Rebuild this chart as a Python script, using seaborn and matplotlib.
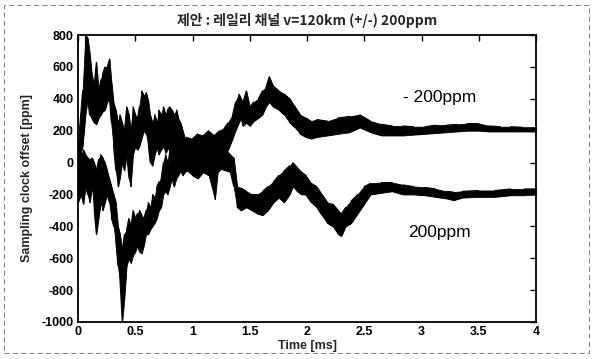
import numpy as np
import pandas as pd
import matplotlib
matplotlib.use("Agg")
import matplotlib.pyplot as plt
from matplotlib.patches import Rectangle
import seaborn as sns

# ---------------- data ----------------
title = "제안 : 레일리 채널 v=120km (+/-) 200ppm"
x_label = "Time [ms]"
y_label = "Sampling clock offset [ppm]"
x_ticks = [0, 0.5, 1, 1.5, 2, 2.5, 3, 3.5, 4]
x_tick_labels = ["0", "0.5", "1", "1.5", "2", "2.5", "3", "3.5", "4"]
y_ticks = [-1000, -800, -600, -400, -200, 0, 200, 400, 600, 800]
series_names = ["- 200ppm", "200ppm"]

# series "- 200ppm" (upper trace): time, lower and upper envelope of the noise band
t_a = [0.00, 0.04, 0.065, 0.085, 0.10, 0.12, 0.14, 0.16, 0.18, 0.20, 0.215, 0.235,
       0.255, 0.275, 0.29, 0.31, 0.33, 0.35, 0.365, 0.385, 0.405, 0.425, 0.445, 0.46,
       0.48, 0.50, 0.52, 0.535, 0.555, 0.575, 0.595, 0.615, 0.63, 0.65, 0.67, 0.69,
       0.705, 0.725, 0.745, 0.765, 0.78, 0.80, 0.82, 0.84, 0.86, 0.875, 0.895, 0.915,
       0.935, 0.95, 1.00, 1.045, 1.095, 1.14, 1.19, 1.235, 1.28, 1.31, 1.35, 1.375,
       1.405, 1.425, 1.44, 1.47, 1.50, 1.535, 1.575, 1.61, 1.64, 1.67, 1.705, 1.755,
       1.80, 1.85, 1.895, 1.94, 1.99, 2.035, 2.085, 2.18, 2.27, 2.37, 2.46, 2.555,
       2.65, 2.745, 2.84, 2.93, 3.03, 3.12, 3.215, 3.31, 3.40, 3.50, 3.59, 3.69,
       3.78, 3.88, 4.00]
lo_a = [0, 100, 300, 400, 300, 280, 250, 240, 280, 300, 320, 330,
        380, 400, 250, 100, -50, -150, -100, 0, -50, 50, -100, -150,
        50, 100, 80, 100, 150, 200, 180, 100, 0, -20, 50, 100,
        50, 80, 100, 60, 80, 100, 80, 50, 100, 60, 0, 20,
        -20, 0, -50, -20, 0, 0, -20, 20, 50, 80, 150, 200,
        250, 280, 230, 250, 230, 260, 280, 300, 350, 380, 350, 330,
        300, 250, 220, 180, 160, 150, 160, 170, 180, 190, 220, 190,
        170, 170, 170, 175, 180, 185, 190, 195, 200, 200, 195, 195,
        195, 195, 195]
hi_a = [100, 450, 800, 780, 700, 560, 480, 630, 450, 520, 560, 600,
        600, 650, 520, 380, 330, 250, 300, 250, 200, 350, 300, 200,
        350, 300, 280, 350, 450, 420, 440, 380, 300, 250, 300, 250,
        330, 300, 350, 300, 330, 350, 330, 300, 330, 280, 250, 200,
        150, 160, 150, 180, 170, 200, 170, 200, 220, 250, 300, 380,
        430, 400, 380, 450, 350, 380, 400, 450, 470, 540, 480, 450,
        430, 400, 350, 300, 280, 260, 270, 260, 280, 290, 300, 260,
        240, 230, 230, 225, 225, 235, 235, 240, 245, 245, 230, 225,
        225, 222, 222]

# series "200ppm" (lower trace)
t_b = [0.00, 0.028, 0.047, 0.066, 0.084, 0.103, 0.122, 0.141, 0.16, 0.179, 0.198,
       0.216, 0.235, 0.254, 0.273, 0.292, 0.311, 0.33, 0.349, 0.367, 0.386, 0.405,
       0.424, 0.443, 0.462, 0.481, 0.50, 0.518, 0.537, 0.556, 0.575, 0.594, 0.613,
       0.631, 0.65, 0.669, 0.688, 0.707, 0.726, 0.745, 0.763, 0.782, 0.801, 0.82,
       0.839, 0.858, 0.877, 0.895, 0.914, 0.933, 0.952, 0.999, 1.046, 1.093, 1.141,
       1.196, 1.22, 1.25, 1.29, 1.33, 1.36, 1.39, 1.424, 1.471, 1.518, 1.565, 1.612,
       1.659, 1.706, 1.754, 1.80, 1.848, 1.876, 1.914, 1.952, 1.989, 2.036, 2.084,
       2.13, 2.178, 2.225, 2.272, 2.30, 2.338, 2.385, 2.442, 2.499, 2.555, 2.649,
       2.744, 2.838, 2.932, 3.027, 3.121, 3.215, 3.28, 3.357, 3.498, 3.64, 3.781,
       3.90, 4.00]
lo_b = [-250, -200, -260, -150, -200, -250, -150, -300, -450, -350, -250,
        -300, -250, -200, -250, -350, -400, -500, -650, -750, -1000, -850,
        -650, -600, -630, -580, -560, -520, -560, -570, -520, -450, -450,
        -420, -400, -380, -350, -300, -280, -200, -180, -200, -150, -100,
        -150, -100, -80, -50, -80, -60, -50, -80, -100, -60, -80,
        -230, -60, -40, -50, -60, -150, -280, -300, -280, -300, -320, -330,
        -300, -250, -220, -250, -200, -150, -180, -200, -200, -250, -280,
        -330, -380, -400, -450, -460, -400, -380, -320, -260, -200, -190,
        -180, -200, -200, -205, -215, -225, -236, -220, -215, -215, -205,
        -205, -200]
hi_b = [100, 50, 80, 50, 30, 20, 30, 0, -50, 20, 50,
        30, 0, -50, -100, -150, -200, -250, -400, -450, -550, -450,
        -420, -350, -400, -300, -350, -320, -300, -330, -350, -300, -250,
        -280, -200, -220, -150, -120, -100, 0, 50, 0, 100, 60,
        150, 100, 120, 100, 80, 100, 80, 100, 60, 80, 50,
        20, 60, 60, 80, 50, 30, -150, -160, -180, -200, -200, -180,
        -150, -120, -80, -50, -20, 0, -30, -60, -80, -130, -150,
        -200, -250, -260, -300, -320, -280, -240, -200, -150, -130, -125,
        -125, -140, -150, -155, -165, -180, -185, -180, -175, -175, -165,
        -165, -165]

# label positions of the in-plot annotations (data coordinates)
label_pos = [(2.84, 405), (2.88, -441)]


def zigzag(t, lo, hi):
    xs, ys = [], []
    for i, (a, b, c) in enumerate(zip(t, lo, hi)):
        xs += [a, a]
        ys += [b, c] if i % 2 == 0 else [c, b]
    return xs, ys


frames = []
for name, (t, lo, hi) in zip(series_names, [(t_a, lo_a, hi_a), (t_b, lo_b, hi_b)]):
    xs, ys = zigzag(t, lo, hi)
    frames.append(pd.DataFrame({"t": xs, "v": ys, "series": name}))
df = pd.concat(frames, ignore_index=True)

# ---------------- figure ----------------
sns.set_theme(style="white")
plt.rcParams["font.family"] = ["Liberation Sans", "Noto Sans CJK KR", "DejaVu Sans"]

fig = plt.figure(figsize=(5.92, 3.59), dpi=100)
ax = fig.add_axes([78 / 592, 1 - 322 / 359, 458 / 592, 287 / 359])

for (t, lo, hi) in [(t_a, lo_a, hi_a), (t_b, lo_b, hi_b)]:
    ax.fill_between(t, lo, hi, color="black", linewidth=0.6, edgecolor="black")

sns.lineplot(data=df, x="t", y="v", hue="series", palette=["black", "black"],
             sort=False, estimator=None, legend=False, linewidth=0.7, ax=ax)

ax.set_xlim(0, 4)
ax.set_ylim(-1000, 800)
ax.set_xticks(x_ticks)
ax.set_xticklabels(x_tick_labels)
ax.set_yticks(y_ticks)
ax.set_yticklabels([str(v) for v in y_ticks])
ax.tick_params(direction="in", length=4, width=1, top=True, right=True,
               labelsize=9, pad=3, colors="black")
for lbl in ax.get_xticklabels() + ax.get_yticklabels():
    lbl.set_fontweight("bold")
for s in ax.spines.values():
    s.set_linewidth(1.3)
    s.set_color("black")

ax.set_xlabel(x_label, fontsize=9, fontweight="bold", labelpad=1)
ax.set_ylabel(y_label, fontsize=9, fontweight="bold", labelpad=6)

for name, (x, y) in zip(series_names, label_pos):
    ax.text(x, y, name, fontsize=12.5, ha="left", va="center", color="black")

fig.text(307 / 592, 1 - 21 / 359, title, ha="center", va="center", fontsize=10,
         fontweight="bold", family=["Noto Sans CJK KR", "DejaVu Sans"])

# scanned page frame
fig.patches.append(Rectangle((0.007, 0.017), 0.988, 0.969, transform=fig.transFigure,
                             fill=False, edgecolor="#666666", linewidth=0.6,
                             linestyle=(0, (6, 4))))

fig.savefig("out.png", dpi=100, facecolor="white")
